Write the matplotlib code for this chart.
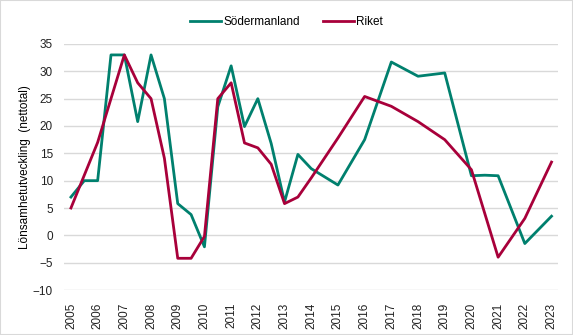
import matplotlib.pyplot as plt
from matplotlib.patches import Rectangle

# halvår fram till 2013, därefter helår
years = [2005, 2005.5, 2006, 2006.5, 2007, 2007.5, 2008, 2008.5, 2009, 2009.5,
         2010, 2010.5, 2011, 2011.5, 2012, 2012.5, 2013, 2013.5,
         2014, 2015, 2016, 2017, 2018, 2019, 2020, 2020.5, 2021, 2022, 2023]
sodermanland = [7, 10, 10, 33, 33, 20.8, 33, 25, 5.8, 3.8,
                -2.1, 23.5, 31, 19.9, 25, 16.8, 6.1, 14.8,
                12.2, 9.2, 17.5, 31.7, 29.1, 29.7, 10.9, 11, 10.9, -1.5, 3.5]
riket = [5, 11, 17, 25, 33, 27.9, 25, 14.1, -4.2, -4.2,
         -0.2, 25, 27.9, 16.9, 16, 13, 5.8, 7,
         10.5, 17.8, 25.4, 23.6, 20.8, 17.5, 12, 4, -4, 3.1, 13.4]
tick_years = list(range(2005, 2024))

green = "#00806E"
red = "#A8003A"

plt.rcParams["font.family"] = ["Liberation Sans", "DejaVu Sans"]

fig = plt.figure(figsize=(5.73, 3.35), dpi=100)
fig.patches.append(Rectangle((0, 0), 1, 1, transform=fig.transFigure,
                             fill=False, edgecolor="#d9d9d9", linewidth=1.5))
ax = fig.add_axes([0.1117, 0.1343, 0.862, 0.7344])

ax.plot(years, sodermanland, color=green, linewidth=2, label="Södermanland")
ax.plot(years, riket, color=red, linewidth=2, label="Riket")

ax.set_ylim(-10, 35)
ax.set_xlim(2004.74, 2023.24)
ax.set_yticks(range(-10, 40, 5))
ax.set_xticks(tick_years)
ax.set_xticklabels([str(y) for y in tick_years], rotation=90)
ax.tick_params(axis="both", length=0, colors="#222222")
ax.tick_params(axis="x", pad=9, labelsize=8.5)
ax.tick_params(axis="y", pad=8, labelsize=8.5)
ax.grid(axis="y", color="#d9d9d9", linewidth=1)
ax.set_axisbelow(True)
for s in ax.spines.values():
    s.set_visible(False)

ax.set_ylabel("Lönsamhetutveckling  (nettotal)", fontsize=8.5, labelpad=1)

fig.legend(loc="upper center", bbox_to_anchor=(0.5, 0.985), ncol=2, frameon=False,
           fontsize=8.5, handlelength=2.6, handletextpad=0.2, columnspacing=2)

fig.savefig("out.png", dpi=100)
